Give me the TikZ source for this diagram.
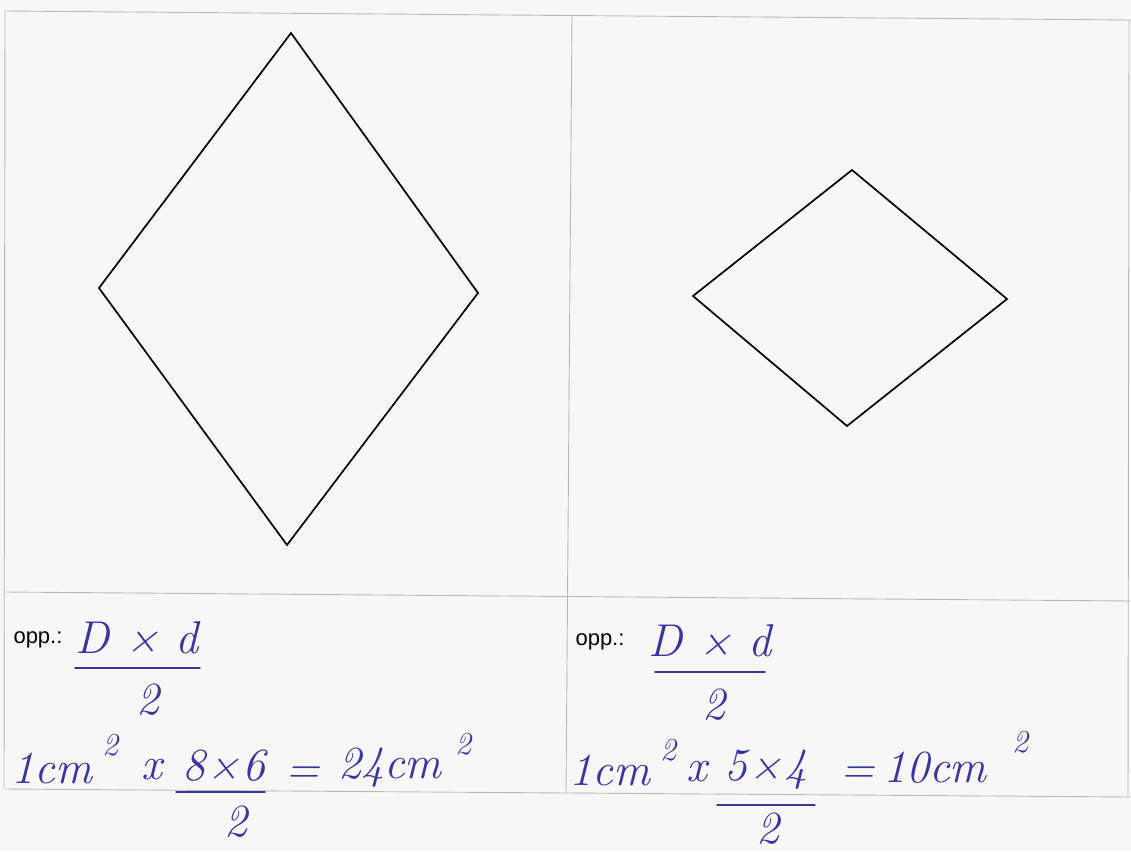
\documentclass[tikz,border=0pt]{standalone}
\usepackage{fontspec}
\setmainfont{Liberation Sans}
\newfontfamily\hand{Latin Modern Roman}
\definecolor{ink}{RGB}{58,52,160}
\definecolor{grid}{RGB}{185,185,185}
\definecolor{paper}{RGB}{247,247,247}
\tikzset{
  gridline/.style={draw=grid, line width=0.9pt},
  rhomb/.style={draw=black, line width=1.7pt, line join=miter},
  lbl/.style={inner sep=0pt, font=\fontsize{22}{25}\selectfont},
  hw/.style={inner sep=0pt, text=ink, font=\hand\itshape\fontsize{46}{50}\selectfont},
  hws/.style={inner sep=0pt, text=ink, font=\hand\itshape\fontsize{32}{36}\selectfont},
  bar/.style={draw=ink, line width=1.4pt, line cap=round}
}
\begin{document}
\begin{tikzpicture}[x=1pt,y=-1pt]
\fill[paper] (0,0) rectangle (1131,851);
\useasboundingbox (0,0) rectangle (1131,851);
% table grid
\draw[gridline] (5,11) -- (1131,20);
\draw[gridline] (5,592) -- (1131,601);
\draw[gridline] (5,789) -- (1131,797);
\draw[gridline] (5,11) -- (4,789);
\draw[gridline] (572,15) -- (566,793);
\draw[gridline] (1129,20) -- (1128,797);
% left rhombus
\coordinate (lt) at (291,33);
\coordinate (ll) at (99,288);
\coordinate (lb) at (287,545);
\coordinate (lr) at (478,293);
\draw[rhomb] (lt) -- (lr) -- (lb) -- (ll) -- cycle;
% right rhombus
\coordinate (rt) at (852,170);
\coordinate (rr) at (1007,299);
\coordinate (rb) at (847,426);
\coordinate (rl) at (693,296);
\draw[rhomb] (rt) -- (rr) -- (rb) -- (rl) -- cycle;
% left bottom cell
\node[lbl] (oppL) at (38,640) {opp.:};
\node[hw] (dL) at (137,638) {D × d};
\coordinate (fL1) at (75,668);
\coordinate (fL2) at (200,668);
\draw[bar] (fL1) -- (fL2);
\node[hw] (twoL) at (148,700) {2};
\node[hw] (cmL) at (52,768) {1cm};
\node[hws] (supL) at (110,745) {2};
\node[hw] (xL) at (152,770) {x};
\node[hw] (prL) at (224,766) {8\kern1pt×\kern1pt6};
\coordinate (gL1) at (176,792);
\coordinate (gL2) at (265,792);
\draw[bar] (gL1) -- (gL2);
\node[hw] (tL) at (236,822) {2};
\node[hw] (eqL) at (303,775) {=};
\node[hw] (resL) at (390,768) {24cm};
\node[hws] (supL2) at (463,744) {2};
% right bottom cell
\node[lbl] (oppR) at (600,642) {opp.:};
\node[hw] (dR) at (710,641) {D × d};
\coordinate (fR1) at (655,672);
\coordinate (fR2) at (765,672);
\draw[bar] (fR1) -- (fR2);
\node[hw] (twoR) at (714,705) {2};
\node[hw] (cmR) at (610,770) {1cm};
\node[hws] (supR) at (668,750) {2};
\node[hw] (xR) at (697,772) {x};
\node[hw] (prR) at (766,770) {5\kern1pt×\kern1pt4};
\coordinate (gR1) at (717,805);
\coordinate (gR2) at (815,805);
\draw[bar] (gR1) -- (gR2);
\node[hw] (tR) at (768,829) {2};
\node[hw] (eqR) at (858,775) {=};
\node[hw] (resR) at (935,768) {10cm};
\node[hws] (supR2) at (1020,742) {2};
\end{tikzpicture}
\end{document}
